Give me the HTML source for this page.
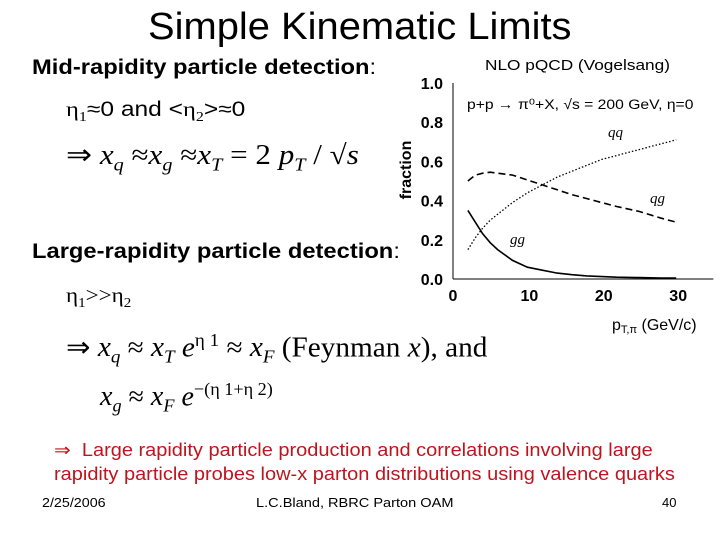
<!DOCTYPE html>
<html><head><meta charset="utf-8"><style>
body{margin:0;background:#fff;}
#s{position:relative;width:720px;height:540px;overflow:hidden;background:#fff;font-family:"Liberation Sans",sans-serif;color:#000}
.t{position:absolute;white-space:nowrap;line-height:1;transform-origin:0 0}
.ser{font-family:"Liberation Serif",serif}
.i{font-style:italic}
sub,sup{font-size:65%}
</style></head><body>
<div id="s">
<div class="t" style="left:148px;top:8px;font-size:38px;transform:scaleX(1.05)">Simple Kinematic Limits</div>
<div class="t" style="left:32px;top:57px;font-size:21px;font-weight:bold;transform:scaleX(1.13)">Mid-rapidity particle detection<span style="font-weight:normal">:</span></div>
<div class="t" style="left:66px;top:99px;font-size:21px;transform:scaleX(1.17)"><span class="ser">η<sub>1</sub></span>≈0 and &lt;<span class="ser">η<sub>2</sub></span>&gt;≈0</div>
<div class="t ser" style="left:66px;top:142px;font-size:28px;transform:scaleX(1.11)">⇒ <span class="i">x<sub>q</sub></span> ≈<span class="i">x<sub>g</sub></span> ≈<span class="i">x<sub>T</sub></span> = 2 <span class="i">p<sub>T</sub></span> / √<span class="i">s</span></div>
<div class="t" style="left:32px;top:241px;font-size:21px;font-weight:bold;transform:scaleX(1.13)">Large-rapidity particle detection<span style="font-weight:normal">:</span></div>
<div class="t ser" style="left:66px;top:285px;font-size:21px;transform:scaleX(1.1)">η<sub>1</sub>&gt;&gt;η<sub>2</sub></div>
<div class="t ser" style="left:66px;top:331px;font-size:28px;transform:scaleX(1.045)">⇒ <span class="i">x<sub>q</sub></span> ≈ <span class="i">x<sub>T</sub></span> <span class="i">e</span><sup>η 1</sup> ≈ <span class="i">x<sub>F</sub></span> (Feynman <span class="i">x</span>), and</div>
<div class="t ser" style="left:100px;top:380px;font-size:28px"><span class="i">x<sub>g</sub></span> ≈ <span class="i">x<sub>F</sub></span> <span class="i">e</span><sup>−(η 1+η 2)</sup></div>
<div class="t" style="left:54px;top:438px;font-size:18px;color:#c0141c;line-height:24px;transform:scaleX(1.11)">⇒&nbsp; Large rapidity particle production and correlations involving large<br>rapidity particle probes low-x parton distributions using valence quarks</div>
<div class="t" style="left:42px;top:496px;font-size:13px;transform:scaleX(1.1)">2/25/2006</div>
<div class="t" style="left:256px;top:496px;font-size:13px;transform:scaleX(1.12)">L.C.Bland, RBRC Parton OAM</div>
<div class="t" style="left:662px;top:496px;font-size:13px">40</div>
<svg id="c" width="720" height="540" style="position:absolute;left:0;top:0"></svg>
</div>
<script>
const pt=[2,3,4,5,6,8,10,12,14,16,18,20,22,25,28,30];
const qq=[0.15,0.21,0.26,0.30,0.33,0.39,0.44,0.48,0.52,0.55,0.58,0.61,0.63,0.66,0.69,0.71];
const qg=[0.50,0.53,0.54,0.545,0.54,0.53,0.505,0.48,0.455,0.43,0.41,0.39,0.37,0.345,0.31,0.29];
const gg=[0.35,0.29,0.23,0.185,0.15,0.095,0.06,0.045,0.03,0.022,0.016,0.012,0.009,0.007,0.005,0.005];
const xTicks=[0,10,20,30];
const yTicks=["0.0","0.2","0.4","0.6","0.8","1.0"];
const X=v=>453+v*7.44, Y=v=>279-v*196;
const svg=document.getElementById('c');const NS='http://www.w3.org/2000/svg';
function mk(t,a,txt){const e=document.createElementNS(NS,t);for(const k in a)e.setAttribute(k,a[k]);if(txt!=null)e.textContent=txt;svg.appendChild(e);return e;}
let e;
e=mk('line',{x1:X(0),y1:Y(0),x2:X(35),y2:Y(0),stroke:'#000','stroke-width':1});

e=mk('line',{x1:X(0),y1:Y(0),x2:X(0),y2:Y(1),stroke:'#000','stroke-width':1});

xTicks.forEach(v=>{e=mk('text',{x:X(v)+(v?2:0),y:301,'font-size':16,'font-weight':'bold','text-anchor':'middle','font-family':'Liberation Sans'},String(v));
});
yTicks.forEach(s=>{const v=parseFloat(s);e=mk('text',{x:443,y:Y(v)+6,'font-size':16,'font-weight':'bold','text-anchor':'end','font-family':'Liberation Sans'},s);
});
e=mk('text',{x:0,y:0,'font-size':16,'font-weight':'bold','text-anchor':'middle','font-family':'Liberation Sans',transform:'translate(411,170) rotate(-90)'},'fraction');

e=mk('text',{x:612,y:330,'font-size':16,'font-family':'Liberation Sans'},'');
e.innerHTML='p<tspan font-size="11" dy="3">T,π</tspan><tspan dy="-3"> (GeV/c)</tspan>';

e=mk('text',{x:485,y:70,'font-size':15,'font-family':'Liberation Sans',transform:'translate(485,0) scale(1.15,1) translate(-485,0)'},'NLO pQCD  (Vogelsang)');

e=mk('text',{x:467,y:109,'font-size':14,'font-family':'Liberation Sans',transform:'translate(467,0) scale(1.12,1) translate(-467,0)'},'p+p → π⁰+X, √s = 200 GeV, η=0');

const path=a=>pt.map((p,i)=>(i?'L':'M')+X(p).toFixed(1)+','+Y(a[i]).toFixed(1)).join(' ');
e=mk('path',{d:path(qq),fill:'none',stroke:'#000','stroke-width':1.3,'stroke-dasharray':'1.5,2'});

e=mk('path',{d:path(qg),fill:'none',stroke:'#000','stroke-width':1.6,'stroke-dasharray':'7,4'});

e=mk('path',{d:path(gg),fill:'none',stroke:'#000','stroke-width':1.6});

[['qq',608,137],['qg',650,203],['gg',510,244]].forEach(([s,x,y])=>{e=mk('text',{x:x,y:y,'font-size':15,'font-style':'italic','font-family':'Liberation Serif'},s);
});
</script>
</body></html>
